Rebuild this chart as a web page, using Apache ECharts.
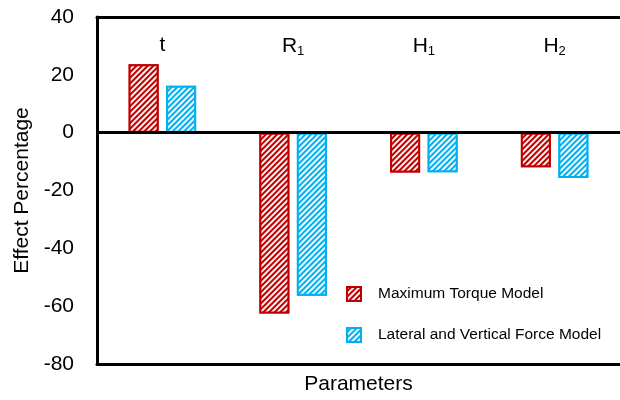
<!DOCTYPE html>
<html>
<head>
<meta charset="utf-8">
<script src="https://cdn.jsdelivr.net/npm/echarts@6/dist/echarts.min.js"></script>
<style>html,body{margin:0;padding:0;background:#fff}#c{width:620px;height:400px}</style>
</head>
<body>
<div id="c"></div>
<script>
var categories = ['t', 'R1', 'H1', 'H2'];
var torqueModel = [23.7, -62.5, -13.8, -12.0];
var forceModel = [16.2, -56.4, -13.7, -15.7];
var seriesNames = ['Maximum Torque Model', 'Lateral and Vertical Force Model'];
var yTicks = { min: -80, max: 40, interval: 20 };

var FONT = "'Liberation Sans', Arial, sans-serif";
var RED = '#C00000', BLUE = '#00B0F0';
var decal = {
  symbol: 'rect', symbolSize: 1,
  dashArrayX: [1, 0], dashArrayY: [2, 2],
  rotation: -Math.PI / 4,
  color: 'rgba(255,255,255,0.95)'
};

var chart = echarts.init(document.getElementById('c'), null, { renderer: 'canvas' });
chart.setOption({
  animation: false,
  backgroundColor: '#fff',
  textStyle: { fontFamily: FONT },
  grid: { left: 97, right: 0, top: 17, bottom: 36, containLabel: false, outerBoundsMode: 'none' },
  legend: {
    orient: 'vertical', left: 341, top: 281, itemGap: 25,
    itemWidth: 14, itemHeight: 14, icon: 'rect',
    textStyle: { fontFamily: FONT, fontSize: 15.5, color: '#000', padding: [0, 0, 0, 12] },
    data: seriesNames
  },
  xAxis: [{
    type: 'category', data: categories, position: 'top',
    axisLine: { onZero: false, lineStyle: { color: '#000', width: 3 } },
    axisTick: { show: false },
    axisLabel: {
      inside: true, margin: 18, color: '#000', fontFamily: FONT, fontSize: 21,
      formatter: function (v) { return v.length > 1 ? v[0] + '{s|' + v.slice(1) + '}' : v; },
      rich: { s: { fontSize: 13, fontFamily: FONT, color: '#000', padding: [10, 0, 0, 0] } }
    }
  }, {
    type: 'category', data: categories, position: 'bottom',
    axisLine: { onZero: false, lineStyle: { color: '#000', width: 3 } },
    axisTick: { show: false }, axisLabel: { show: false },
    name: 'Parameters', nameLocation: 'middle', nameGap: 10,
    nameTextStyle: { fontFamily: FONT, fontSize: 21, color: '#000' }
  }],
  yAxis: {
    type: 'value', min: yTicks.min, max: yTicks.max, interval: yTicks.interval,
    axisLine: { show: true, lineStyle: { color: '#000', width: 3 } },
    axisTick: { show: false }, splitLine: { show: false },
    axisLabel: { margin: 23, color: '#000', fontFamily: FONT, fontSize: 21 },
    name: 'Effect Percentage', nameLocation: 'middle', nameGap: 63,
    nameTextStyle: { fontFamily: FONT, fontSize: 21, color: '#000' }
  },
  series: [{
    name: seriesNames[0], type: 'bar', data: torqueModel, barWidth: 30, barGap: '25%',
    itemStyle: { color: RED, borderColor: RED, borderWidth: 2, decal: decal },
    markLine: {
      silent: true, symbol: 'none', label: { show: false },
      lineStyle: { color: '#000', width: 3, type: 'solid' },
      data: [{ yAxis: 0 }]
    }
  }, {
    name: seriesNames[1], type: 'bar', data: forceModel, barWidth: 30,
    itemStyle: { color: BLUE, borderColor: BLUE, borderWidth: 2, decal: decal }
  }]
});
</script>
</body>
</html>
